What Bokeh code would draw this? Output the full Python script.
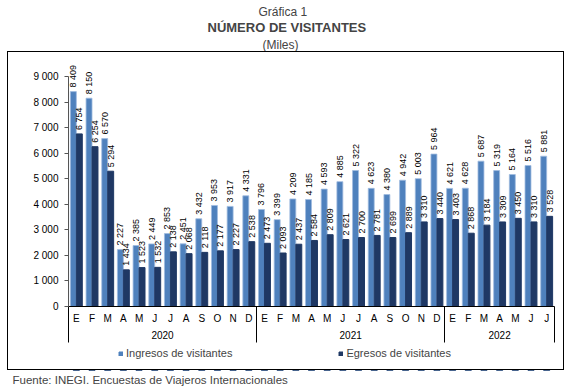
from math import pi
from bokeh.plotting import figure
from bokeh.layouts import column
from bokeh.models import (ColumnDataSource, LinearAxis, FixedTicker, Range1d, Title,
                          Legend, LegendItem, InlineStyleSheet)
from bokeh.transform import dodge
from bokeh.core.properties import value
from bokeh.embed import file_html
from bokeh.resources import INLINE

# ---------------- data ----------------
years = ["2020", "2021", "2022"]
months_per_year = [12, 12, 7]
month_letters = ["E", "F", "M", "A", "M", "J", "J", "A", "S", "O", "N", "D"]
ingresos = [8409, 8150, 6570, 2227, 2385, 2449, 2853, 2451, 3432, 3953, 3917, 4331,
            3796, 3399, 4209, 4185, 4593, 4885, 5322, 4623, 4380, 4942, 5003, 5964,
            4621, 4628, 5687, 5319, 5164, 5516, 5881]
egresos = [6754, 6254, 5294, 1434, 1523, 1532, 2138, 2068, 2118, 2177, 2227, 2538,
           2473, 2093, 2437, 2584, 2809, 2621, 2700, 2781, 2699, 2889, 3310, 3440,
           3403, 2868, 3184, 3309, 3450, 3310, 3528]
y_ticks = [0, 1000, 2000, 3000, 4000, 5000, 6000, 7000, 8000, 9000]
series_names = ["Ingresos de visitantes", "Egresos de visitantes"]
title_lines = ["Gráfica 1", "NÚMERO DE VISITANTES", "(Miles)"]
source_note = "Fuente: INEGI. Encuestas de Viajeros Internacionales"

FONT = "Liberation Sans"
C_ING = "#4f81bd"
C_ING_EDGE = "#9fbbe0"
C_EGR = "#1f3864"


def fmt(v):
    return f"{v:,}".replace(",", " ")


n = len(ingresos)
xs = list(range(n))
months = [month_letters[i % 12] for i in range(n)]

# group boundaries / centers
bounds = [-0.5]
centers = []
start = 0
for c in months_per_year:
    centers.append(start + (c - 1) / 2)
    start += c
    bounds.append(start - 0.5)

src = ColumnDataSource(dict(x=xs, ing=ingresos, egr=egresos,
                            ing_lbl=[fmt(v) for v in ingresos],
                            egr_lbl=[fmt(v) for v in egresos]))

# ---------------- main chart ----------------
p = figure(width=572, height=344, output_backend="svg", toolbar_location=None, title=None,
           x_range=Range1d(-0.5, n - 0.5), y_range=Range1d(0, 9861),
           x_axis_location=None, y_axis_location=None,
           min_border_left=68, min_border_right=18, min_border_top=54, min_border_bottom=38)
p.grid.visible = False
p.outline_line_color = None
p.background_fill_color = "white"
p.border_fill_color = "white"

yaxis = LinearAxis(ticker=FixedTicker(ticks=y_ticks), bounds=(0, 9000),
                   major_label_overrides={t: fmt(t) for t in y_ticks},
                   major_tick_out=4, major_tick_in=0, minor_tick_line_color=None,
                   axis_line_color="#555555", major_tick_line_color="#555555",
                   major_label_standoff=6,
                   major_label_text_font=FONT, major_label_text_font_size="10px",
                   major_label_text_color="black")
p.add_layout(yaxis, "left")

# month axis; group separators drawn as long minor ticks
maxis = LinearAxis(ticker=FixedTicker(ticks=xs, minor_ticks=bounds),
                   major_label_overrides={i: m for i, m in zip(xs, months)},
                   major_tick_out=0, major_tick_in=0, major_tick_line_color=None,
                   minor_tick_out=36, minor_tick_in=0, minor_tick_line_color="black",
                   axis_line_color="black", major_label_standoff=-30,
                   major_label_text_font=FONT, major_label_text_font_size="10px",
                   major_label_text_color="black")
p.add_layout(maxis, "below")

yraxis = LinearAxis(ticker=FixedTicker(ticks=centers),
                    major_label_overrides={c: y for c, y in zip(centers, years)},
                    axis_line_color=None, major_tick_line_color=None, minor_tick_line_color=None,
                    major_tick_out=0, major_tick_in=0, major_label_standoff=4,
                    major_label_text_font=FONT, major_label_text_font_size="10px",
                    major_label_text_color="black")
p.add_layout(yraxis, "below")

p.vbar(x=dodge("x", -0.19, range=p.x_range), top="ing", width=0.38, source=src,
       fill_color=C_ING, line_color=C_ING_EDGE, line_width=0.8)
p.vbar(x=dodge("x", 0.19, range=p.x_range), top="egr", width=0.38, source=src,
       fill_color=C_EGR, line_color=C_EGR)

p.text(x=dodge("x", -0.19, range=p.x_range), y="ing", text="ing_lbl", source=src,
       angle=pi / 2, text_align="left", text_baseline="middle", y_offset=-4,
       text_font=value(FONT), text_font_size="9px", text_color="black")
p.text(x=dodge("x", 0.19, range=p.x_range), y="egr", text="egr_lbl", source=src,
       angle=pi / 2, text_align="left", text_baseline="middle", y_offset=-4,
       text_font=value(FONT), text_font_size="9px", text_color="black")

# titles (first added = closest to plot)
for txt, style, size, off, so in [(title_lines[2], "normal", "12px", 194, 5),
                                  (title_lines[1], "bold", "13px", 139, -2),
                                  (title_lines[0], "normal", "12px", 190, -1)]:
    p.add_layout(Title(text=txt, align="left", offset=off, standoff=so,
                       text_font=FONT, text_font_size=size, text_font_style=style), "above")

# ---------------- legend + source strip ----------------
# same series, on a value range where the bars fall out of view: only the legend shows
q = figure(width=572, height=42, output_backend="svg", toolbar_location=None, title=None,
           x_range=Range1d(-0.5, n - 0.5), y_range=Range1d(20000, 20001),
           x_axis_location=None, y_axis_location=None,
           min_border_left=68, min_border_right=18, min_border_top=0, min_border_bottom=0)
q.grid.visible = False
q.outline_line_color = None
q.border_fill_color = "white"
l1 = q.vbar(x="x", top="ing", width=0.38, source=src, fill_color=C_ING, line_color=C_ING)
l2 = q.vbar(x="x", top="egr", width=0.38, source=src, fill_color=C_EGR, line_color=C_EGR)
legend = Legend(items=[LegendItem(label=series_names[0], renderers=[l1]),
                       LegendItem(label=series_names[1], renderers=[l2])],
                orientation="horizontal", location=(50, 11), spacing=106,
                glyph_width=5, glyph_height=5, label_standoff=3, label_height=12,
                padding=0, margin=0, border_line_color=None, background_fill_alpha=0,
                label_text_font=FONT, label_text_font_size="11px",
                label_text_baseline="middle")
q.add_layout(legend)
q.add_layout(Title(text=source_note, align="left", offset=-56, standoff=2,
                   text_font=FONT, text_font_size="11.5px", text_font_style="normal"),
             "below")

layout = column(p, q, spacing=0)
layout.stylesheets = [InlineStyleSheet(css="""
:host { position: relative; }
:host::after { content: ''; position: absolute; left: 7px; top: 51px; width: 557px; height: 319px;
  border: 1px solid black; box-sizing: border-box; pointer-events: none; }
""")]

open("out.html", "w").write(file_html(layout, INLINE))
